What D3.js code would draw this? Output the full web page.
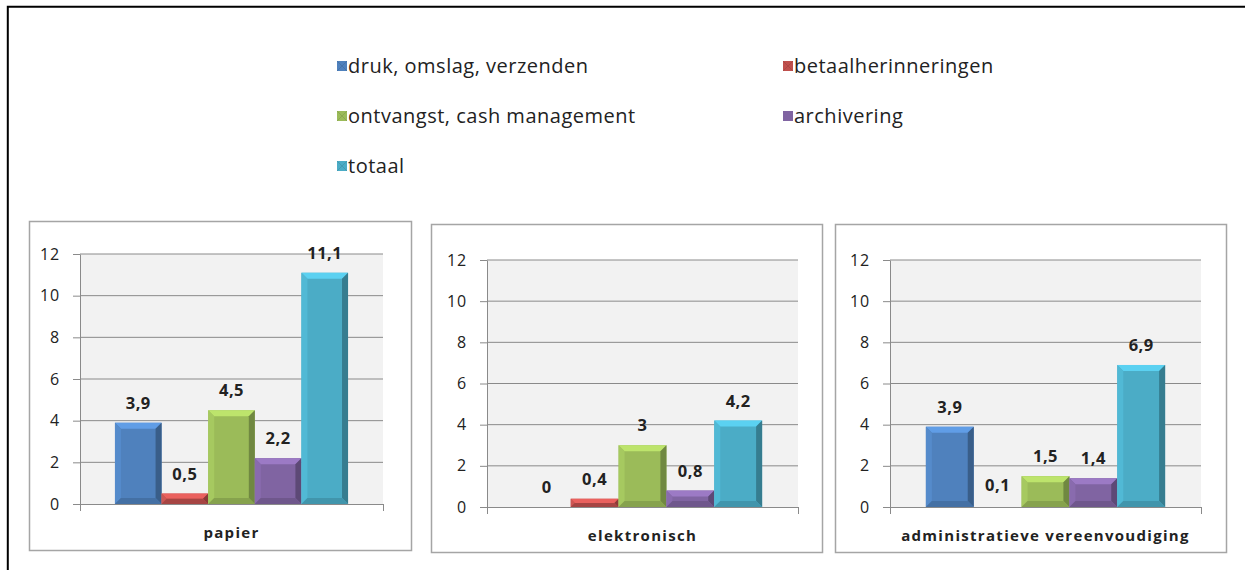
<!DOCTYPE html>
<html>
<head>
<meta charset="utf-8">
<script src="https://cdn.jsdelivr.net/npm/d3@7"></script>
<style>
  body { margin: 0; background: #fff; }
  svg { display: block; font-family: "Open Sans", sans-serif; }
</style>
</head>
<body>
<svg id="chart"></svg>
<script>
// data
const categories = ['papier', 'elektronisch', 'administratieve vereenvoudiging'];
const seriesNames = ['druk, omslag, verzenden', 'betaalherinneringen', 'ontvangst, cash management', 'archivering', 'totaal'];
const drukValues = [3.9, 0, 3.9];
const herinneringValues = [0.5, 0.4, 0.1];
const ontvangstValues = [4.5, 3, 1.5];
const archiveringValues = [2.2, 0.8, 1.4];
const totaalValues = [11.1, 4.2, 6.9];
const yTicks = [0, 2, 4, 6, 8, 10, 12];
const seriesColors = ['#4F81BD', '#C0504D', '#9BBB59', '#8064A2', '#4BACC6'];

const allValues = [drukValues, herinneringValues, ontvangstValues, archiveringValues, totaalValues];

const width = 1245, height = 570;
const svg = d3.select('#chart').attr('width', width).attr('height', height);

// outer frame (only top and left visible)
svg.append('path')
  .attr('d', `M7.8,${height} V6.8 H${width}`)
  .attr('fill', 'none').attr('stroke', '#000').attr('stroke-width', 2);

// legend
const legendPos = [[337, 66], [783, 66], [337, 116], [783, 116], [337, 166]];
const legend = svg.append('g');
seriesNames.forEach((name, i) => {
  const g = legend.append('g').attr('transform', `translate(${legendPos[i][0]},${legendPos[i][1]})`);
  g.append('rect').attr('x', 0).attr('y', -5).attr('width', 10).attr('height', 10)
    .attr('fill', seriesColors[i]);
  if (i !== 3) {
    g.append('path').attr('d', 'M0,-5 L10,5 M10,-5 L0,5')
      .attr('stroke', d3.color(seriesColors[i]).darker(0.6)).attr('stroke-width', 1).attr('opacity', 0.5);
  }
  g.append('text').attr('x', 11).attr('y', 0).attr('dy', '0.36em')
    .style('font-size', '20px').style('letter-spacing', '0.5px').attr('fill', '#222').text(name);
});

// panels (layout only)
const panels = [
  { x: 29, y: 221, w: 382, h: 329, l: 51, t: 33, r: 28, b: 46 },
  { x: 431, y: 224, w: 391, h: 328, l: 56, t: 36, r: 24, b: 45 },
  { x: 835, y: 224, w: 391, h: 328, l: 55, t: 36, r: 25, b: 45 }
];

function bevelBar(g, x, y, w, h, color) {
  const c = d3.color(color);
  g.append('rect').attr('x', x).attr('y', y).attr('width', w).attr('height', h).attr('fill', color);
  const b = Math.min(6, h / 2, w / 2);
  if (b <= 0) return;
  g.append('path').attr('d', `M${x},${y} H${x + w} L${x + w - b},${y + b} H${x + b} Z`)
    .attr('fill', c.brighter(0.55));
  g.append('path').attr('d', `M${x},${y} L${x + b},${y + b} V${y + h - b} L${x},${y + h} Z`)
    .attr('fill', c.brighter(0.2));
  g.append('path').attr('d', `M${x + w},${y} L${x + w - b},${y + b} V${y + h - b} L${x + w},${y + h} Z`)
    .attr('fill', c.darker(0.9));
  g.append('path').attr('d', `M${x},${y + h} L${x + b},${y + h - b} H${x + w - b} L${x + w},${y + h} Z`)
    .attr('fill', c.darker(0.4));
}

categories.forEach((cat, ci) => {
  const p = panels[ci];
  const g = svg.append('g').attr('transform', `translate(${p.x},${p.y})`);
  g.append('rect').attr('x', 0.5).attr('y', 0.5).attr('width', p.w).attr('height', p.h)
    .attr('fill', '#fff').attr('stroke', '#A5A5A5').attr('stroke-width', 1.5);

  const x0 = p.l, x1 = p.w - p.r, y0 = p.h - p.b, y1 = p.t;
  const y = d3.scaleLinear().domain([0, 12]).range([y0, y1]);
  const xCat = d3.scaleBand().domain([cat]).range([x0, x1]).paddingOuter(0.15).paddingInner(0);
  const xSer = d3.scaleBand().domain(seriesNames).range([0, xCat.bandwidth()]).padding(0);

  g.append('rect').attr('x', x0).attr('y', y1).attr('width', x1 - x0).attr('height', y0 - y1)
    .attr('fill', '#F2F2F2');

  // gridlines
  g.append('g').selectAll('line').data(yTicks.filter(d => d > 0)).join('line')
    .attr('x1', x0).attr('x2', x1).attr('y1', d => y(d)).attr('y2', d => y(d))
    .attr('stroke', '#8A8A8A').attr('stroke-width', 1);

  // y axis
  const yAxis = d3.axisLeft(y).tickValues(yTicks).tickSize(7).tickPadding(13).tickSizeOuter(0);
  const ya = g.append('g').attr('transform', `translate(${x0},0)`).call(yAxis);
  ya.select('.domain').attr('stroke', '#8A8A8A');
  ya.selectAll('.tick line').attr('stroke', '#8A8A8A');
  ya.selectAll('.tick text').style('font-size', '16px').style('letter-spacing', '0.8px')
    .style('font-family', '"Open Sans", sans-serif').attr('fill', '#222');

  // x axis
  const xAxis = d3.axisBottom(d3.scaleLinear().domain([0, 1]).range([x0, x1]))
    .tickValues([0, 1]).tickSize(7).tickFormat('');
  const xa = g.append('g').attr('transform', `translate(0,${y0})`).call(xAxis);
  xa.select('.domain').attr('stroke', '#8A8A8A');
  xa.selectAll('.tick line').attr('stroke', '#8A8A8A');

  // bars
  const bars = g.append('g').attr('transform', `translate(${xCat(cat)},0)`);
  seriesNames.forEach((s, si) => {
    const v = allValues[si][ci];
    const bx = xSer(s), bw = xSer.bandwidth();
    const by = y(v), bh = y(0) - y(v);
    if (bh > 3) bevelBar(bars, bx, by, bw, bh, seriesColors[si]);
    bars.append('text')
      .attr('x', bx + bw / 2).attr('y', by - 14)
      .attr('text-anchor', 'middle')
      .style('font-size', '16.5px').style('font-weight', 'bold').style('letter-spacing', '0.5px')
      .attr('fill', '#222')
      .text(String(v).replace('.', ','));
  });

  // category label
  g.append('text').attr('x', (x0 + x1) / 2).attr('y', y0 + 34)
    .attr('text-anchor', 'middle')
    .style('font-size', '15px').style('font-weight', 'bold').style('letter-spacing', '1.3px')
    .attr('fill', '#222')
    .text(cat);
});
</script>
</body>
</html>
